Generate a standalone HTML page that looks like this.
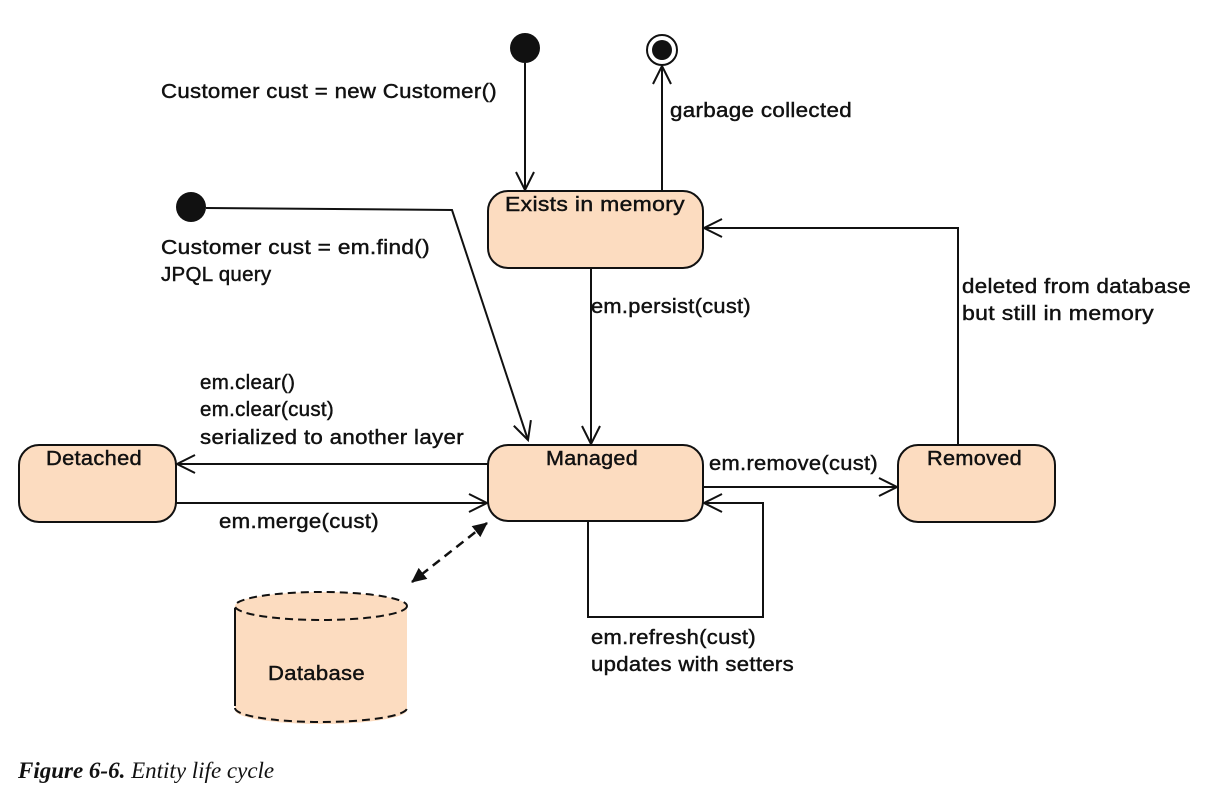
<!DOCTYPE html>
<html><head><style>body{margin:0;background:#fff}svg{display:block}text{font-family:"Liberation Sans",sans-serif;font-size:20.5px;fill:#111;stroke:#111;stroke-width:0.45;letter-spacing:0.3px}</style></head><body>
<svg width="1231" height="798" viewBox="0 0 1231 798">
<defs><marker id="a" markerWidth="24" markerHeight="24" refX="20" refY="12" orient="auto" markerUnits="userSpaceOnUse"><path d="M2,3 L20,12 L2,21" fill="none" stroke="#111" stroke-width="2"/></marker>
<marker id="f" markerWidth="16" markerHeight="16" refX="14" refY="8" orient="auto-start-reverse" markerUnits="userSpaceOnUse"><path d="M0,1 L15,8 L0,15 z" fill="#111"/></marker></defs>
<g fill="#fcdcc0" stroke="#111" stroke-width="2">
<rect x="488" y="191" width="215" height="77" rx="20"/>
<rect x="488" y="445" width="215" height="76" rx="20"/>
<rect x="19" y="445" width="157" height="77" rx="20"/>
<rect x="898" y="445" width="157" height="77" rx="20"/>
</g>
<g fill="#111"><circle cx="525" cy="48" r="15"/><circle cx="191" cy="207" r="15"/><circle cx="662" cy="50" r="10"/></g>
<circle cx="662" cy="50" r="15" fill="none" stroke="#111" stroke-width="2"/>
<g fill="none" stroke="#111" stroke-width="2" marker-end="url(#a)">
<path d="M525,63 V190"/><path d="M662,190 V66"/><path d="M591,268 V444"/>
<path d="M958,445 V228 H704"/><path d="M488,464 H177"/><path d="M176,503 H487"/>
<path d="M703,487 H897"/><path d="M588,521 V617 H763 V503 H704"/>
<path d="M206,208 L452,210 L528,440"/>
</g>
<path d="M487,523 L412,582" stroke="#111" stroke-width="2.5" stroke-dasharray="9,6" marker-start="url(#f)" marker-end="url(#f)"/>
<path d="M235,606 V710 A86,14 0 0 0 407,710 V606" fill="#fcdcc0" stroke="none"/>
<ellipse cx="321" cy="606" rx="86" ry="14" fill="#fcdcc0" stroke="#111" stroke-width="2" stroke-dasharray="8,5"/>
<path d="M235,708 A86,14 0 0 0 407,708" fill="none" stroke="#111" stroke-width="2" stroke-dasharray="8,5"/>
<line x1="235" y1="608" x2="235" y2="706" stroke="#111" stroke-width="2"/>
<text x="505" y="211" textLength="180" lengthAdjust="spacingAndGlyphs">Exists in memory</text>
<text x="546" y="465" textLength="92" lengthAdjust="spacingAndGlyphs">Managed</text>
<text x="46" y="465" textLength="96" lengthAdjust="spacingAndGlyphs">Detached</text>
<text x="927" y="465" textLength="95" lengthAdjust="spacingAndGlyphs">Removed</text>
<text x="268" y="680" textLength="97" lengthAdjust="spacingAndGlyphs">Database</text>
<text x="161" y="98" textLength="336" lengthAdjust="spacingAndGlyphs">Customer cust = new Customer()</text>
<text x="670" y="117" textLength="182" lengthAdjust="spacingAndGlyphs">garbage collected</text>
<text x="161" y="254" textLength="269" lengthAdjust="spacingAndGlyphs">Customer cust = em.find()</text>
<text x="161" y="281">JPQL query</text>
<text x="591" y="313" textLength="160" lengthAdjust="spacingAndGlyphs">em.persist(cust)</text>
<text x="962" y="293" textLength="229" lengthAdjust="spacingAndGlyphs">deleted from database</text>
<text x="962" y="320" textLength="192" lengthAdjust="spacingAndGlyphs">but still in memory</text>
<text x="200" y="389">em.clear()</text>
<text x="200" y="416">em.clear(cust)</text>
<text x="200" y="444" textLength="264" lengthAdjust="spacingAndGlyphs">serialized to another layer</text>
<text x="709" y="470" textLength="169" lengthAdjust="spacingAndGlyphs">em.remove(cust)</text>
<text x="219" y="528" textLength="160" lengthAdjust="spacingAndGlyphs">em.merge(cust)</text>
<text x="591" y="644" textLength="165" lengthAdjust="spacingAndGlyphs">em.refresh(cust)</text>
<text x="591" y="671" textLength="203" lengthAdjust="spacingAndGlyphs">updates with setters</text>
<text x="18" y="778" style="font-family:'Liberation Serif',serif;font-style:italic;font-size:23px;stroke:none;letter-spacing:0"><tspan font-weight="bold">Figure 6-6.</tspan>  Entity life cycle</text>
</svg></body></html>
